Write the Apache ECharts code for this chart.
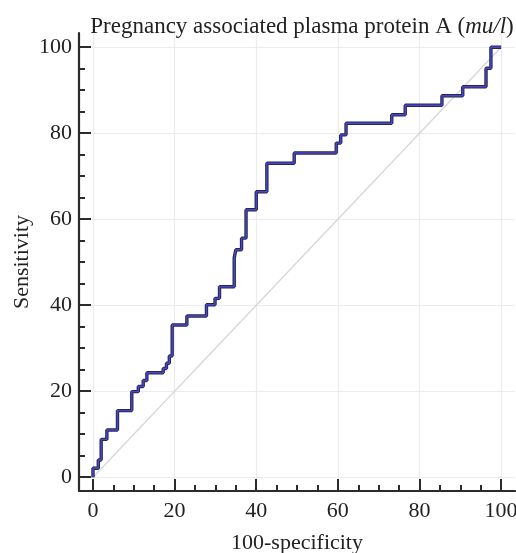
<!DOCTYPE html>
<html>
<head>
<meta charset="utf-8">
<script src="https://cdn.jsdelivr.net/npm/echarts@6/dist/echarts.min.js"></script>
<style>
html,body{margin:0;padding:0;background:#fff;}
#chart{width:516px;height:553px;}
</style>
</head>
<body>
<div id="chart"></div>
<script>
// ROC curve vertices (100-specificity, sensitivity)
const fpr = [0,0,1.3,1.3,2.0,2.0,3.4,3.4,6.0,6.0,9.5,9.5,11.1,11.1,12.3,12.3,13.2,13.2,17.2,17.2,18.0,18.0,18.7,18.7,19.4,19.4,23.0,23.0,27.8,27.8,29.9,29.9,31.0,31.0,34.6,34.6,35.0,35.0,36.4,36.4,37.5,37.5,40.0,40.0,42.6,42.6,49.3,49.3,59.6,59.6,60.7,60.7,62.0,62.0,73.2,73.2,76.5,76.5,85.5,85.5,90.6,90.6,96.3,96.3,97.5,97.5,100];
const tpr = [0,2.1,2.1,4.0,4.0,8.8,8.8,11.0,11.0,15.5,15.5,19.9,19.9,21.1,21.1,22.5,22.5,24.3,24.3,25.3,25.3,26.5,26.5,28.2,28.2,35.4,35.4,37.5,37.5,40.1,40.1,41.6,41.6,44.3,44.3,51.0,51.0,52.9,52.9,55.6,55.6,62.2,62.2,66.4,66.4,73.0,73.0,75.4,75.4,77.7,77.7,79.6,79.6,82.3,82.3,84.3,84.3,86.5,86.5,88.7,88.7,90.8,90.8,95.1,95.1,100,100];
const diagX = [0,100];
const diagY = [0,100];
const majorTicks = [0,20,40,60,80,100];
const minorTicks = [5,10,15,25,30,35,45,50,55,65,70,75,85,90,95];
const titleMain = 'Pregnancy associated plasma protein A (';
const titleUnit = 'mu/l';
const titleEnd = ')';
const xName = '100-specificity';
const yName = 'Sensitivity';

const FONT = '"Liberation Serif", "DejaVu Serif", serif';
const rocData = fpr.map((x, i) => [x, tpr[i]]);
const diagData = diagX.map((x, i) => [x, diagY[i]]);

const XMIN = -3.43, XMAX = 103.4, YMIN = -3.2, YMAX = 103.3;
const axisLineStyle = {color: '#2b2b2b', width: 2.2};

function majorAxis(name, isX) {
  return {
    type: 'value', min: isX ? XMIN : YMIN, max: isX ? XMAX : YMAX,
    position: isX ? 'bottom' : 'left',
    name: name, nameLocation: 'middle', nameGap: isX ? 41 : 46,
    nameMoveOverlap: false,
    nameTextStyle: {fontFamily: FONT, fontSize: 22, color: '#222'},
    axisLine: {show: true, onZero: false, lineStyle: axisLineStyle},
    axisTick: {show: true, inside: true, length: 12, customValues: majorTicks, lineStyle: {color: '#2b2b2b', width: 2}},
    axisLabel: {show: true, customValues: majorTicks, fontFamily: FONT, fontSize: 22, color: '#222', margin: isX ? 9 : 7},
    splitLine: {show: true, lineStyle: {color: '#ececec', width: 1.2}},
    minorTick: {show: false}
  };
}
function minorAxis(isX) {
  return {
    type: 'value', min: isX ? XMIN : YMIN, max: isX ? XMAX : YMAX,
    position: isX ? 'bottom' : 'left',
    axisLine: {show: false, onZero: false},
    axisTick: {show: true, inside: true, length: 6, customValues: minorTicks, lineStyle: {color: '#2b2b2b', width: 2}},
    axisLabel: {show: false},
    splitLine: {show: false}
  };
}

const chart = echarts.init(document.getElementById('chart'), null, {renderer: 'canvas'});
chart.setOption({
  animation: false,
  backgroundColor: '#fff',
  title: {
    text: '{a|' + titleMain + '}{b|' + titleUnit + '}{a|' + titleEnd + '}',
    left: 297, top: 10, textAlign: 'center',
    textStyle: {
      fontWeight: 'normal',
      rich: {
        a: {fontFamily: FONT, fontSize: 23, color: '#222', fontWeight: 'normal'},
        b: {fontFamily: FONT, fontSize: 23, color: '#222', fontWeight: 'normal', fontStyle: 'italic'}
      }
    }
  },
  grid: {left: 79, right: 1, top: 33, bottom: 62, containLabel: false, outerBoundsMode: 'none'},
  xAxis: [majorAxis(xName, true), minorAxis(true)],
  yAxis: [majorAxis(yName, false), minorAxis(false)],
  series: [
    {type: 'line', data: diagData, symbol: 'none', silent: true,
     lineStyle: {color: '#d6d6dc', width: 1.3}},
    {type: 'line', data: rocData, symbol: 'none', silent: true,
     lineStyle: {color: '#26264e', width: 3.4}},
    {type: 'line', data: rocData, symbol: 'none', silent: true,
     lineStyle: {color: '#4848c8', width: 1.4}}
  ]
});
</script>
</body>
</html>
